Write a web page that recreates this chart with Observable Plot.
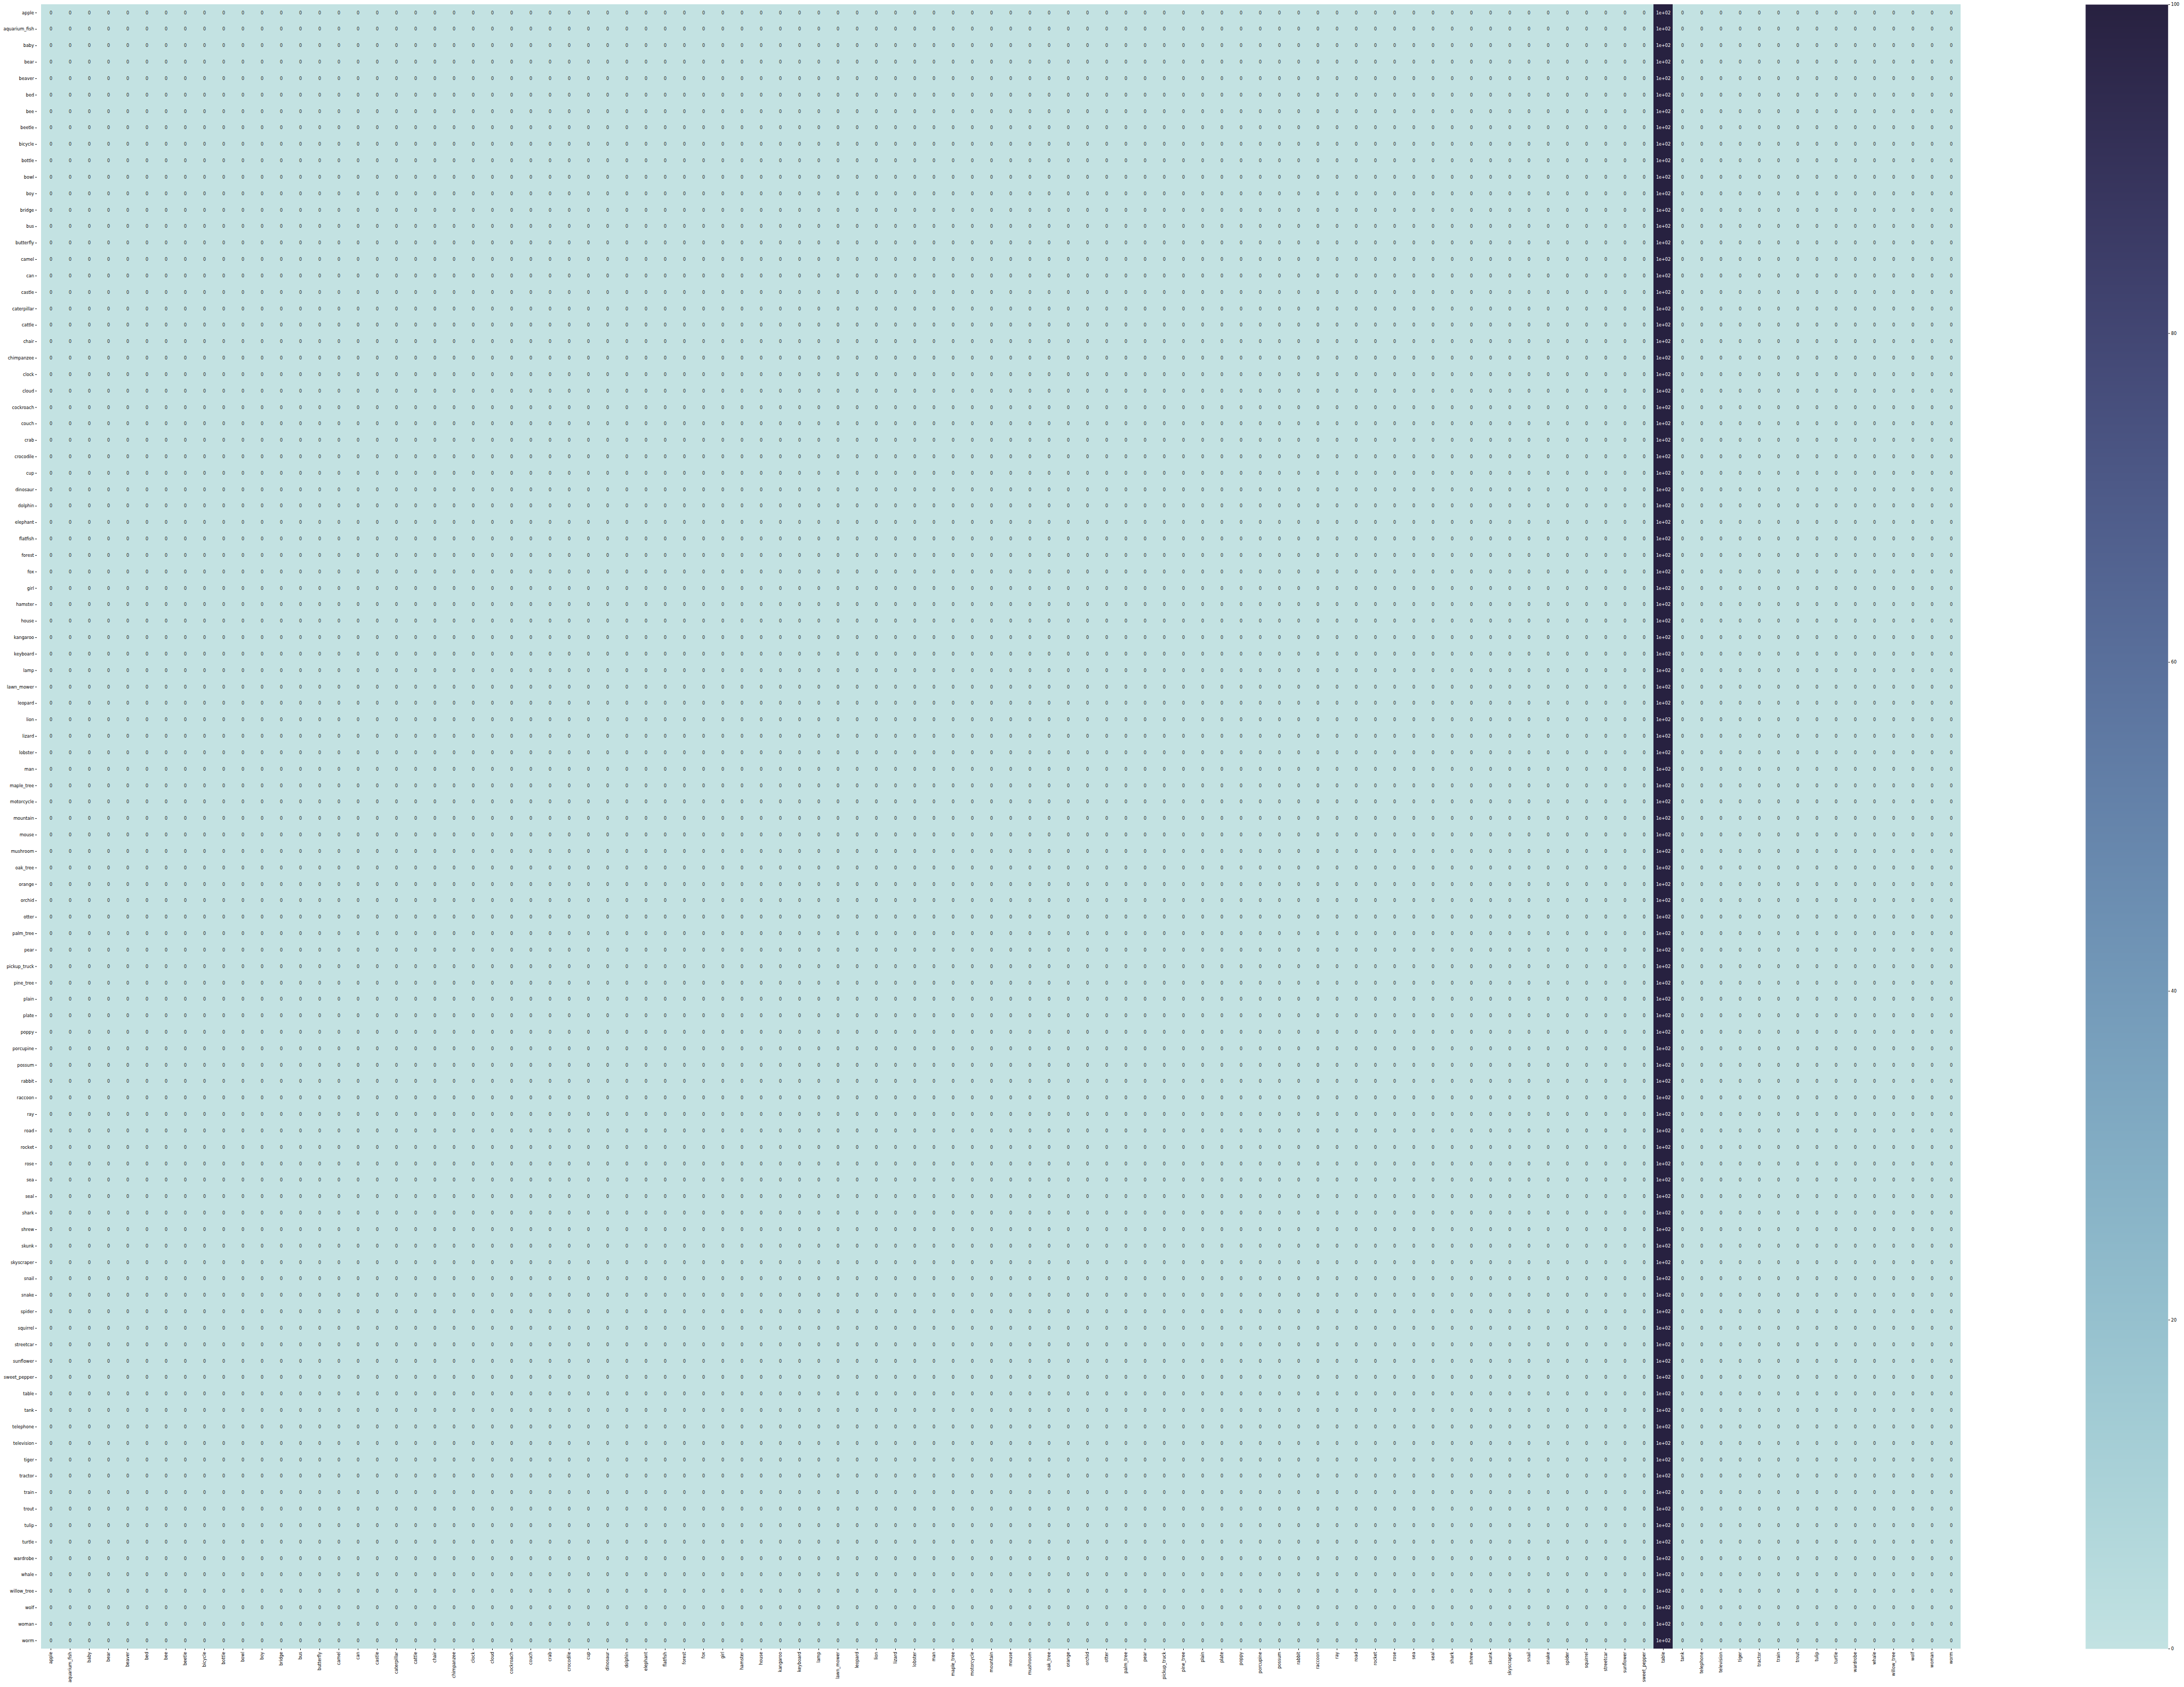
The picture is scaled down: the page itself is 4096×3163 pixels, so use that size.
<!DOCTYPE html>
<html><head><meta charset="utf-8">
<script src="https://cdn.jsdelivr.net/npm/d3@7"></script>
<script src="https://cdn.jsdelivr.net/npm/@observablehq/plot@0.6"></script>
<style>
html,body{margin:0;padding:0;background:#fff;}
#wrap{position:relative;width:4096px;height:3163px;overflow:hidden;}
#wrap svg{position:absolute;top:0;}
</style></head><body><div id="wrap"></div>
<script>
// ---- data ----
const classes = ["apple","aquarium_fish","baby","bear","beaver","bed","bee","beetle","bicycle","bottle","bowl","boy","bridge","bus","butterfly","camel","can","castle","caterpillar","cattle","chair","chimpanzee","clock","cloud","cockroach","couch","crab","crocodile","cup","dinosaur","dolphin","elephant","flatfish","forest","fox","girl","hamster","house","kangaroo","keyboard","lamp","lawn_mower","leopard","lion","lizard","lobster","man","maple_tree","motorcycle","mountain","mouse","mushroom","oak_tree","orange","orchid","otter","palm_tree","pear","pickup_truck","pine_tree","plain","plate","poppy","porcupine","possum","rabbit","raccoon","ray","road","rocket","rose","sea","seal","shark","shrew","skunk","skyscraper","snail","snake","spider","squirrel","streetcar","sunflower","sweet_pepper","table","tank","telephone","television","tiger","tractor","train","trout","tulip","turtle","wardrobe","whale","willow_tree","wolf","woman","worm"];
const predictedLabel = "table";   // every sample predicted as this class
const samplesPerClass = 100;      // count in each row
const colorbarTicks = [0, 20, 40, 60, 80, 100];
const colorDomain = [0, 100];

(function () {
// ---- table ----
const cells = [];
for (const t of classes) for (const p of classes)
  cells.push({actual: t, predicted: p, value: p === predictedLabel ? samplesPerClass : 0});

// seaborn "ch:start=.2,rot=-.3" cubehelix colormap
function cubehelix(x, start=.2, rot=-.3, gamma=1, hue=.8) {
  const xg = Math.pow(x, gamma);
  const a = hue * xg * (1 - xg) / 2;
  const phi = 2 * Math.PI * (start / 3 + rot * x);
  const f = (p0, p1) => Math.max(0, Math.min(1, xg + a * (p0 * Math.cos(phi) + p1 * Math.sin(phi))));
  return [f(-0.14861, 1.78277), f(-0.29227, -0.90649), f(1.97294, 0.0)];
}
const lightX = .85, darkX = .15;
function cmapRGB(t) { return cubehelix(lightX + (darkX - lightX) * Math.max(0, Math.min(1, t))); }
function cmap(t) { const c = cmapRGB(t); return d3.rgb(c[0]*255, c[1]*255, c[2]*255).formatHex(); }
const interp = (t) => cmap(t);

function lum(rgb) {
  const l = rgb.map(v => v <= 0.03928 ? v / 12.92 : Math.pow((v + 0.055) / 1.055, 2.4));
  return 0.2126 * l[0] + 0.7152 * l[1] + 0.0722 * l[2];
}
function textColor(v) {
  const t = (v - colorDomain[0]) / (colorDomain[1] - colorDomain[0]);
  return lum(cmapRGB(t)) > .408 ? "#262626" : "#ffffff";
}
// python-like "{:.2g}"
function fmtG(v) {
  if (v === 0) return "0";
  const e = Math.floor(Math.log10(Math.abs(v)));
  const strip = s => s.includes(".") ? s.replace(/0+$/, "").replace(/\.$/, "") : s;
  if (e < -4 || e >= 2) {
    const m = strip((v / Math.pow(10, e)).toFixed(1));
    return m + "e" + (e < 0 ? "-" : "+") + String(Math.abs(e)).padStart(2, "0");
  }
  return strip(v.toPrecision(2));
}

const W = 4096, H = 3163;
const pL = 68.9, pR = 3684.7, pT = 8.1, pB = 3091.0;
const fs = 8.1;
const style = {fontFamily: "DejaVu Sans, sans-serif", fontSize: fs + "px", color: "#000", background: "transparent"};

const main = Plot.plot({
  width: W, height: H,
  marginLeft: pL, marginRight: W - pR, marginTop: pT, marginBottom: H - pB,
  style,
  x: {domain: classes, padding: 0, tickSize: 2.8, tickPadding: 2.8, tickRotate: -90, label: null},
  y: {domain: classes, padding: 0, tickSize: 2.8, tickPadding: 2.8, label: null},
  color: {type: "linear", domain: colorDomain, interpolate: interp},
  marks: [
    Plot.cell(cells, {x: "predicted", y: "actual", fill: "value", inset: 0, shapeRendering: "crispEdges"}),
    Plot.text(cells, {x: "predicted", y: "actual", text: d => fmtG(d.value), fill: d => textColor(d.value), fontSize: fs})
  ]
});
main.style.left = "0px";
document.getElementById("wrap").appendChild(main);

const cbLeft = 3910.7, cbRight = 4065.4, cbW = 180;
const bar = Plot.plot({
  width: cbW, height: H,
  marginLeft: 0, marginRight: cbW - (cbRight - cbLeft), marginTop: pT, marginBottom: H - pB,
  style,
  x: {domain: [0, 1], axis: null},
  y: {domain: colorDomain, ticks: colorbarTicks, tickSize: 2.8, tickPadding: 2.8, label: null, axis: "right"},
  color: {type: "linear", domain: colorDomain, interpolate: interp},
  marks: [
    Plot.raster({x1: 0, x2: 1, y1: colorDomain[0], y2: colorDomain[1], fill: (x, y) => y, pixelSize: 1})
  ]
});
bar.style.left = cbLeft + "px";
document.getElementById("wrap").appendChild(bar);
})();
</script></body></html>
